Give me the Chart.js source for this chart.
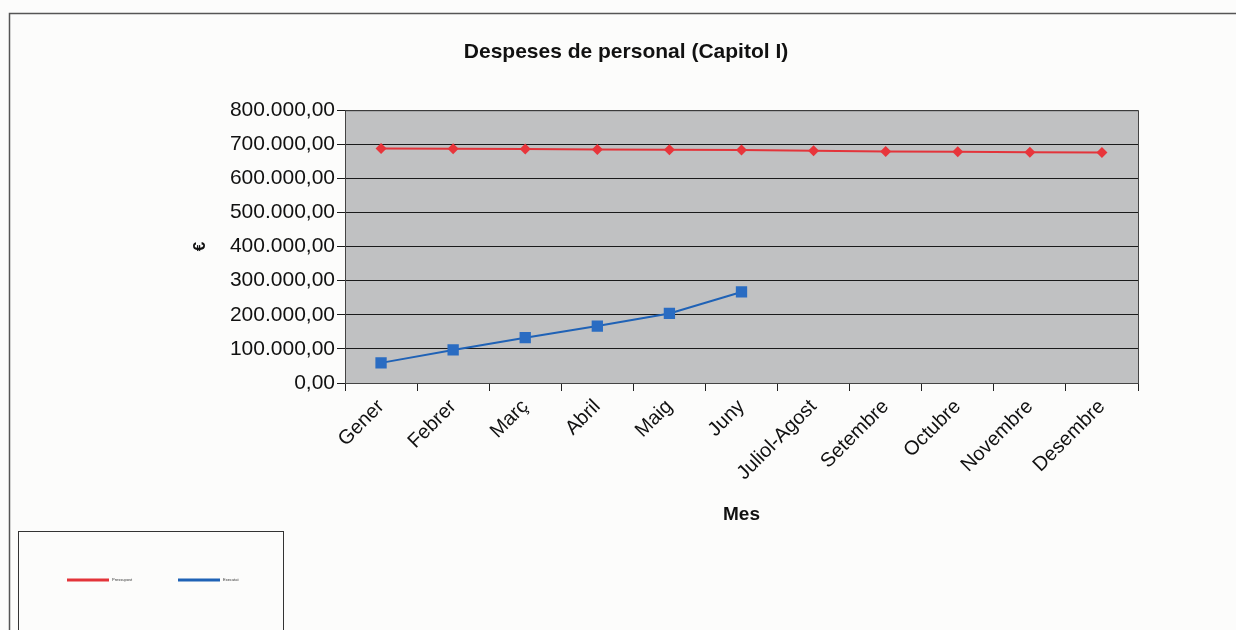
<!DOCTYPE html>
<html lang="ca">
<head>
    <meta charset="UTF-8">
    <title>Despeses de personal (Capitol I)</title>
    <script src="https://cdn.jsdelivr.net/npm/chart.js"></script>
    <style>
        html, body { margin: 0; padding: 0; background: #fcfcfb; }
        #grafic { display: block; }
    </style>
</head>
<body>
    <canvas id="grafic" width="1236" height="630"></canvas>

    <script>
        // Dades llegides del gràfic
        const mesos = ["Gener", "Febrer", "Març", "Abril", "Maig", "Juny", "Juliol-Agost", "Setembre", "Octubre", "Novembre", "Desembre"];
        const pressupost = [688000, 687000, 686000, 685000, 684000, 683000, 681000, 679000, 678000, 677000, 676000];
        const executat = [59000, 97000, 133000, 167000, 204000, 267000, null, null, null, null, null];
        const etiquetesLlegenda = ["Pressupost", "Executat"];

        const FONT = "'Liberation Sans', Arial, sans-serif";

        // format 800.000,00
        function formatEuros(v) {
            const enter = Math.round(v).toString().replace(/\B(?=(\d{3})+(?!\d))/g, ".");
            return enter + ",00";
        }

        // fons gris, marcs i llegenda dibuixada a mà
        const marcs = {
            id: "marcs",
            beforeDraw(chart) {
                const { ctx, chartArea: a } = chart;
                ctx.save();
                ctx.fillStyle = "#c0c1c2";
                ctx.fillRect(a.left, a.top, a.right - a.left, a.bottom - a.top);
                ctx.strokeStyle = "#555";
                ctx.lineWidth = 1.5;
                ctx.beginPath();
                ctx.moveTo(9.5, 640);
                ctx.lineTo(9.5, 13.5);
                ctx.lineTo(1240, 13.5);
                ctx.stroke();
                ctx.restore();
            },
            afterDraw(chart) {
                const { ctx, chartArea: a } = chart;
                ctx.save();
                ctx.strokeStyle = "#444";
                ctx.lineWidth = 1;
                ctx.strokeRect(a.left + 0.5, a.top + 0.5, a.right - a.left, a.bottom - a.top);

                // caixa de la llegenda
                ctx.strokeStyle = "#333";
                ctx.lineWidth = 1;
                ctx.strokeRect(18.5, 531.5, 265, 120);
                const posX = [67, 178];
                chart.data.datasets.forEach((ds, i) => {
                    ctx.strokeStyle = ds.borderColor;
                    ctx.lineWidth = 3;
                    ctx.beginPath();
                    ctx.moveTo(posX[i], 580);
                    ctx.lineTo(posX[i] + 42, 580);
                    ctx.stroke();
                    ctx.fillStyle = "#333";
                    ctx.font = "4px " + FONT;
                    ctx.textBaseline = "middle";
                    ctx.fillText(ds.label, posX[i] + 45, 580);
                });
                ctx.restore();
            }
        };

        new Chart(document.getElementById("grafic"), {
            type: "line",
            data: {
                labels: mesos,
                datasets: [{
                    label: etiquetesLlegenda[0],
                    data: pressupost,
                    borderColor: "#e3343a",
                    backgroundColor: "#e8353b",
                    borderWidth: 2,
                    pointStyle: "rectRot",
                    pointRadius: 5.5,
                    pointBorderWidth: 0,
                    tension: 0
                }, {
                    label: etiquetesLlegenda[1],
                    data: executat,
                    borderColor: "#1f62b6",
                    backgroundColor: "#2a6cc2",
                    borderWidth: 2,
                    pointStyle: "rect",
                    pointRadius: 8,
                    pointBorderWidth: 0,
                    tension: 0,
                    spanGaps: false
                }]
            },
            options: {
                responsive: false,
                animation: false,
                layout: { padding: { left: 114, right: 98, top: 0, bottom: 100 } },
                plugins: {
                    legend: { display: false },
                    tooltip: { enabled: false },
                    title: {
                        display: true,
                        text: "Despeses de personal (Capitol I)",
                        color: "#111",
                        font: { family: FONT, size: 21, weight: "bold" },
                        padding: { top: 40, bottom: 45 }
                    }
                },
                scales: {
                    x: {
                        offset: true,
                        grid: { offset: true, drawOnChartArea: false, drawTicks: true, tickLength: 8, color: "#222" },
                        border: { color: "#222", width: 1 },
                        ticks: {
                            color: "#111",
                            font: { family: FONT, size: 20 },
                            minRotation: 45,
                            maxRotation: 45,
                            autoSkip: false,
                            padding: 4
                        },
                        title: {
                            display: true,
                            text: "Mes",
                            color: "#111",
                            font: { family: FONT, size: 19, weight: "bold" },
                            padding: 4
                        },
                        afterFit(scale) { scale.height = 147; }
                    },
                    y: {
                        min: 0,
                        max: 800000,
                        grid: { color: "#1a1a1a", lineWidth: 1, tickLength: 8 },
                        border: { color: "#222", width: 1 },
                        ticks: {
                            stepSize: 100000,
                            color: "#111",
                            font: { family: FONT, size: 21 },
                            padding: 2,
                            callback: v => formatEuros(v)
                        },
                        title: {
                            display: true,
                            text: "€",
                            color: "#111",
                            font: { family: FONT, size: 17, weight: "bold" },
                            padding: { top: 76, bottom: 0 }
                        },
                        afterFit(scale) { scale.width = 231; }
                    }
                }
            },
            plugins: [marcs]
        });
    </script>
</body>
</html>
